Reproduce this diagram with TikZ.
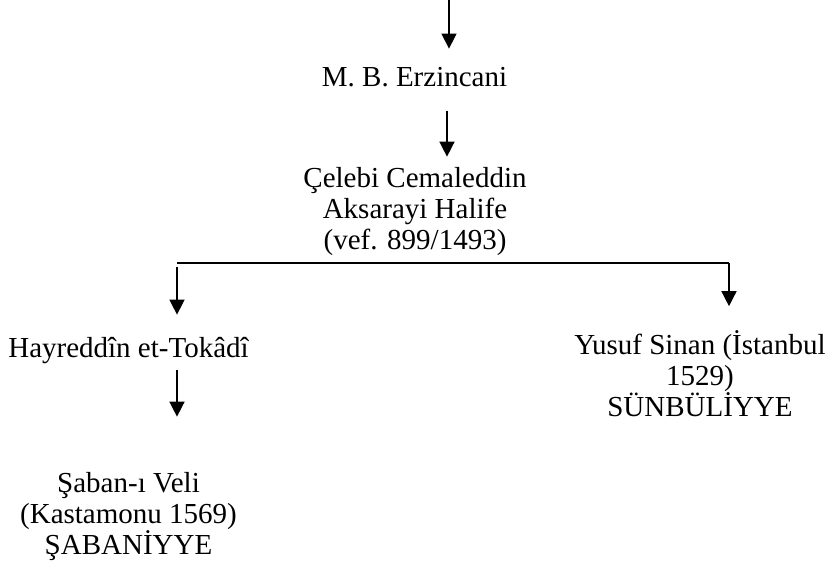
\documentclass[tikz,border=0pt]{standalone}
\usepackage{fontspec}
\setmainfont{Liberation Serif}
\usetikzlibrary{arrows.meta,positioning,calc}

\begin{document}
\begin{tikzpicture}[x=1pt, y=-1pt, every node/.style={inner sep=0pt, align=center, font=\fontsize{29pt}{31pt}\selectfont},
    link/.style={line width=1.5pt},
    arr/.style={link, -{Triangle[width=15pt,length=15pt]}}]
    \useasboundingbox (0,0) rectangle (830,567);
    \node[anchor=base] (erz) at (414.5,87) {M. B. Erzincani};
    \node (cel) at (415,212) {Çelebi Cemaleddin\\Aksarayi Halife\\(vef. 899/1493)};
    \node[anchor=base] (hay) at (128.5,357) {Hayreddîn et-Tokâdî};
    \node (yus) at (700,374) {Yusuf Sinan (İstanbul\\1529)\\SÜNBÜLİYYE};
    \node (sab) at (128.5,517) {Şaban-ı Veli\\(Kastamonu 1569)\\ŞABANİYYE};
    \coordinate (top) at (449,0);
    \coordinate (bar left) at (177,263);
    \coordinate (bar right) at (729,263);
    % chain of links
    \draw[arr, shorten >=19pt] (top) -- (top |- erz.north);
    \draw[arr, shorten <=23pt, shorten >=11pt] ([xshift=32.5pt]erz.south) -- ([xshift=32.5pt]erz.south |- cel.north);
    \draw[link] (bar left) -- (bar right);
    \draw[arr, shorten >=22pt] ([yshift=-4pt]bar left) -- (bar left |- hay.north);
    \draw[arr, shorten >=24.5pt] (bar right) -- (bar right |- yus.north);
    \draw[arr, shorten <=7pt, shorten >=56pt] (bar left |- hay.south) -- (bar left |- sab.north);
\end{tikzpicture}
\end{document}
